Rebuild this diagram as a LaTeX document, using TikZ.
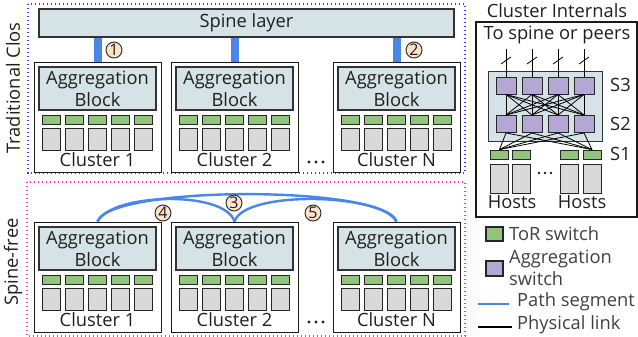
\documentclass[tikz,border=0pt]{standalone}
\usepackage{fontspec}
\setmainfont{Open Sans}
\usetikzlibrary{calc}
\definecolor{aggfill}{HTML}{D5E3E6}
\definecolor{torgreen}{HTML}{93C47D}
\definecolor{hostgray}{HTML}{D9D9D9}
\definecolor{aggpurple}{HTML}{B4A7D6}
\definecolor{pathblue}{HTML}{4A86E8}
\definecolor{numfill}{HTML}{FCE3C8}
\definecolor{clospurple}{HTML}{3B3BF0}
\definecolor{freepink}{HTML}{F030D8}
\begin{document}
\begin{tikzpicture}[x=1pt,y=-1pt,
  every node/.style={text=black!88},
  txt/.style={font=\fontsize{18.3}{22}\selectfont, inner sep=0pt},
  cluster/.style={draw=black!90, line width=0.9pt, minimum width=127pt, minimum height=110pt, inner sep=0pt},
  aggblk/.style={draw=black!80, line width=1.2pt, fill=aggfill, minimum width=117pt, minimum height=43pt,
    inner sep=0pt, align=center, font=\fontsize{18.3}{22}\selectfont},
  tor/.style={draw=black!85, line width=0.9pt, fill=torgreen, minimum width=18pt, minimum height=9pt, inner sep=0pt},
  host/.style={draw=black!85, line width=0.9pt, fill=hostgray, minimum width=18pt, minimum height=22pt, inner sep=0pt},
  aggsw/.style={draw=black!85, line width=0.9pt, fill=aggpurple, minimum width=20pt, minimum height=17pt, inner sep=0pt},
  num/.style={circle, draw=black!85, line width=0.9pt, fill=numfill, minimum size=16pt, inner sep=0pt,
    font=\fontsize{16}{16}\selectfont},
  uplink/.style={line width=8pt, pathblue},
  pathseg/.style={line width=2.4pt, pathblue},
  plink/.style={line width=0.8pt, black},
  dotframe/.style={line width=1.3pt, dash pattern=on 1.3pt off 2.7pt}
]
\useasboundingbox (0,0) rectangle (638,337);

% section frames
\draw[dotframe, clospurple] (28,4) rectangle (465,173);
\draw[dotframe, freepink] (27,182) rectangle (465,336);
\node[txt, rotate=90] (lbl-clos) at (13,88) {Traditional Clos};
\node[txt, rotate=90] (lbl-free) at (13,262) {Spine-free};

% spine layer
\node[draw=black!80, line width=1.2pt, fill=aggfill, minimum width=415pt, minimum height=28pt, inner sep=0pt,
  font=\fontsize{18.3}{22}\selectfont] (spine) at (246.5,23) {Spine layer};

% clusters: name / left x / top y / label
\foreach \n/\cx/\cy/\lab in {t1/34/62/1, t2/171/62/2, tN/333/62/N, f1/34/222/1, f2/171/222/2, fN/333/222/N} {
  \node[cluster] (cl-\n) at (\cx+63.5,\cy+55) {};
  \node[aggblk] (ag-\n) at (\cx+63.5,\cy+26.5) {Aggregation\\Block};
  \foreach \k in {0,...,4} {
    \node[tor] (tor-\n-\k) at (\cx+17+23*\k,\cy+57.5) {};
    \node[host] (host-\n-\k) at (\cx+17+23*\k,\cy+77) {};
  }
  \node[txt] (lab-\n) at (\cx+63.5,\cy+98) {Cluster \lab};
}

% ellipses between cluster 2 and cluster N
\foreach \y in {162,322} {
  \foreach \x in {309,316,323} \fill[black!88] (\x,\y) circle (1.7pt);
}

% uplinks to the spine
\foreach \n in {t1,t2,tN}
  \draw[uplink] (cl-\n.north) -- (cl-\n.north |- spine.south);
\node[num] (n1) at (114,50) {1};
\node[num] (n2) at (414,50) {2};

% spine-free path segments
\draw[pathseg] (cl-f1.north) .. controls (110,185) and (385,185) .. (cl-fN.north);
\draw[pathseg] (cl-f1.north) .. controls (112,193) and (225,190) .. (cl-f2.north);
\draw[pathseg] (cl-f2.north) .. controls (244,190) and (382,193) .. (cl-fN.north);
\node[num] (n3) at (234,203) {3};
\node[num] (n4) at (163,213) {4};
\node[num] (n5) at (313,213) {5};

% cluster internals panel
\node[txt] (ci-title) at (557,11) {Cluster Internals};
\draw[line width=1.2pt, black!90] (476,22) rectangle (637,217);
\node[txt] (ci-top) at (557,35) {To spine or peers};
\node[draw=black!80, line width=0.9pt, fill=aggfill, minimum width=114pt, minimum height=70pt, inner sep=0pt] (ci-agg) at (545,106) {};
\foreach \i/\x in {1/506,2/532,3/558,4/584} {
  \node[aggsw] (s3-\i) at (\x,85.5) {};
  \node[aggsw] (s2-\i) at (\x,124) {};
  \coordinate (up-\i) at (\x,49);
}
\foreach \i in {1,...,4} {
  \draw[plink] (s3-\i.north) -- (up-\i);
  \draw[plink] ($(up-\i)+(-5,15)$) -- ($(up-\i)+(5,8)$);
}
\foreach \i in {1,...,4}
  \foreach \j in {1,...,4}
    \draw[plink] (s3-\i.south) -- (s2-\j.north);
\foreach \i/\x in {1/499.5,2/521,3/569.5,4/592} {
  \node[tor] (s1-\i) at (\x,154.5) {};
  \node[host, minimum height=29pt] (h-\i) at (\x,178.5) {};
}
\foreach \j in {1,...,4} {
  \draw[plink] (s2-\j.south) -- (s1-1.north);
  \draw[plink] (s2-\j.south) -- (s1-4.north);
}
\foreach \x in {539,545,551} \fill[black!88] (\x,173) circle (1.4pt);
\node[txt] (hosts-l) at (512,202) {Hosts};
\node[txt] (hosts-r) at (582,202) {Hosts};
\node[txt, anchor=west] (s3lab) at (610,85) {S3};
\node[txt, anchor=west] (s2lab) at (610,124) {S2};
\node[txt, anchor=west] (s1lab) at (610,154) {S1};

% legend
\node[tor, minimum width=17pt, minimum height=14pt, line width=1.2pt] (lg-tor) at (494.5,234) {};
\node[txt, anchor=west, text=black!75] (lg-tor-t) at (509,234) {ToR switch};
\node[aggsw, minimum width=17pt, minimum height=15pt, line width=1.2pt] (lg-agg) at (494.5,268.5) {};
\node[txt, anchor=west, align=left, text=black!75, font=\fontsize{18.3}{22}\selectfont] (lg-agg-t) at (509,268) {Aggregation\\switch};
\coordinate (lg-p1) at (478,304);
\coordinate (lg-p2) at (509,304);
\draw[pathseg, line width=2pt] (lg-p1) -- (lg-p2);
\node[txt, anchor=west, text=black!75] (lg-path-t) at (517,302) {Path segment};
\coordinate (lg-l1) at (478,327);
\coordinate (lg-l2) at (512,327);
\draw[line width=2pt, black] (lg-l1) -- (lg-l2);
\node[txt, anchor=west, text=black!75] (lg-link-t) at (517,325) {Physical link};
\end{tikzpicture}
\end{document}
